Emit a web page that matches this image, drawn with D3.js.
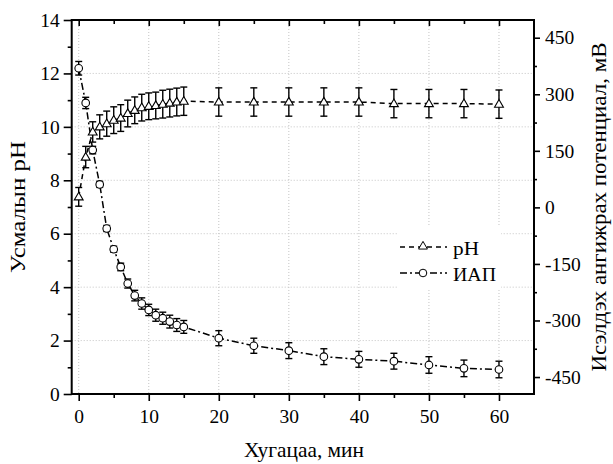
<!DOCTYPE html>
<html>
<head>
<meta charset="utf-8">
<script src="https://cdn.jsdelivr.net/npm/d3@7"></script>
<style>
  html, body { margin: 0; padding: 0; background: #fff; }
  svg { display: block; }
  text { font-family: "Liberation Serif", "Times New Roman", serif; fill: #000; }
</style>
</head>
<body>
<svg id="chart" width="613" height="464"></svg>
<script>
// ---- data ----
const timeMin   = [0,1,2,3,4,5,6,7,8,9,10,11,12,13,14,15,20,25,30,35,40,45,50,55,60];
const pHValues  = [7.38,8.87,9.81,10.0,10.12,10.25,10.33,10.5,10.62,10.72,10.77,10.8,10.85,10.89,10.93,10.96,
                   10.93,10.93,10.93,10.93,10.93,10.87,10.87,10.87,10.85];
const pHErrors  = [0.35,0.4,0.38,0.45,0.47,0.5,0.5,0.5,0.5,0.5,0.5,0.5,0.52,0.52,0.52,0.53,
                   0.53,0.53,0.53,0.53,0.53,0.53,0.53,0.53,0.53];
const orpValues = [369,277,152,61,-56,-111,-158,-202,-234,-255,-272,-286,-294,-303,-312,-317,
                   -347,-367,-380,-396,-403,-408,-418,-427,-430];
const orpErrors = [18,15,10,8,8,8,10,12,14,15,15,16,16,17,17,17,20,20,21,21,21,21,22,22,22];

const xMajorTicks = [0,10,20,30,40,50,60];
const xMinorTicks = [5,15,25,35,45,55];
const leftMajorTicks = [0,2,4,6,8,10,12,14];
const leftMinorTicks = [1,3,5,7,9,11,13];
const rightMajorTicks = [-450,-300,-150,0,150,300,450];
const rightMinorTicks = [-375,-225,-75,75,225,375];

const seriesNames = ["pH", "ИАП"];
const xTitle = "Хугацаа, мин";
const leftTitle = "Усмалын pH";
const rightTitle = "Исэлдэх ангижрах потенциал, мВ";

// ---- layout ----
const L = 71.7, R = 534, T = 20, B = 394;
const svg = d3.select("#chart");
const x  = d3.scaleLinear().domain([-1, 65]).range([L, R]);
const yL = d3.scaleLinear().domain([0, 14]).range([B, T]);
const yR = d3.scaleLinear().domain([-495, 497]).range([B, T]);
const fmt = d => String(d);

// grid
const grid = svg.append("g").attr("stroke", "#c4c4c4").attr("stroke-width", 1).attr("stroke-dasharray", "1,2");
grid.selectAll("line.v").data(xMajorTicks).join("line")
  .attr("x1", d => x(d)).attr("x2", d => x(d)).attr("y1", T).attr("y2", B);
grid.selectAll("line.h").data(leftMajorTicks.filter(d => d > 0 && d < 14)).join("line")
  .attr("x1", L).attr("x2", R).attr("y1", d => yL(d)).attr("y2", d => yL(d));

// legend background (covers grid)
svg.append("rect").attr("x", 398).attr("y", 225).attr("width", 103).attr("height", 65).attr("fill", "#fff");

// axes
function styleAxis(g, labelSize) {
  g.select(".domain").remove();
  g.selectAll(".tick line").attr("stroke", "#000").attr("stroke-width", 1.6);
  g.selectAll(".tick text").attr("font-size", labelSize)
    .attr("font-family", '"Liberation Serif", "Times New Roman", serif');
}
const gBottom = svg.append("g").attr("transform", `translate(0,${B})`)
  .call(d3.axisBottom(x).tickValues(xMajorTicks).tickFormat(fmt).tickSize(7).tickPadding(8));
styleAxis(gBottom, 19.5);
const gBottomMinor = svg.append("g").attr("transform", `translate(0,${B})`)
  .call(d3.axisBottom(x).tickValues(xMinorTicks).tickFormat("").tickSize(4));
styleAxis(gBottomMinor, 0);
const gTop = svg.append("g").attr("transform", `translate(0,${T})`)
  .call(d3.axisBottom(x).tickValues(xMajorTicks).tickFormat("").tickSize(6));
styleAxis(gTop, 0);
const gTopMinor = svg.append("g").attr("transform", `translate(0,${T})`)
  .call(d3.axisBottom(x).tickValues(xMinorTicks).tickFormat("").tickSize(4));
styleAxis(gTopMinor, 0);

const gLeft = svg.append("g").attr("transform", `translate(${L},0)`)
  .call(d3.axisLeft(yL).tickValues(leftMajorTicks).tickFormat(fmt).tickSize(8).tickPadding(4));
styleAxis(gLeft, 19.5);
const gLeftMinor = svg.append("g").attr("transform", `translate(${L},0)`)
  .call(d3.axisLeft(yL).tickValues(leftMinorTicks).tickFormat("").tickSize(4));
styleAxis(gLeftMinor, 0);

const gRight = svg.append("g").attr("transform", `translate(${R},0)`)
  .call(d3.axisRight(yR).tickValues(rightMajorTicks).tickFormat(fmt).tickSize(6).tickPadding(5));
styleAxis(gRight, 19.5);
const gRightMinor = svg.append("g").attr("transform", `translate(${R},0)`)
  .call(d3.axisRight(yR).tickValues(rightMinorTicks).tickFormat("").tickSize(3));
styleAxis(gRightMinor, 0);

// frame
svg.append("rect").attr("x", L).attr("y", T).attr("width", R - L).attr("height", B - T)
  .attr("fill", "none").attr("stroke", "#000").attr("stroke-width", 2);

// titles
svg.append("text").attr("x", 304).attr("y", 457).attr("text-anchor", "middle")
  .attr("font-size", 21).attr("textLength", 120).attr("lengthAdjust", "spacingAndGlyphs").text(xTitle);
svg.append("text").attr("transform", `translate(25,${(T + B) / 2}) rotate(-90)`)
  .attr("text-anchor", "middle").attr("font-size", 22)
  .attr("textLength", 132).attr("lengthAdjust", "spacingAndGlyphs").text(leftTitle);
svg.append("text").attr("transform", `translate(606,${(T + B) / 2}) rotate(-90)`)
  .attr("text-anchor", "middle").attr("font-size", 22)
  .attr("textLength", 329).attr("lengthAdjust", "spacingAndGlyphs").text(rightTitle);

// series
const pHData  = timeMin.map((t, i) => ({ t, v: pHValues[i],  e: pHErrors[i] }));
const orpData = timeMin.map((t, i) => ({ t, v: orpValues[i], e: orpErrors[i] }));

svg.append("path").datum(orpData)
  .attr("d", d3.line().x(d => x(d.t)).y(d => yR(d.v)))
  .attr("fill", "none").attr("stroke", "#000").attr("stroke-width", 1.5)
  .attr("stroke-dasharray", "7,3,2,3");
svg.append("path").datum(pHData)
  .attr("d", d3.line().x(d => x(d.t)).y(d => yL(d.v)))
  .attr("fill", "none").attr("stroke", "#000").attr("stroke-width", 1.5)
  .attr("stroke-dasharray", "5,4");

function errorBars(data, yScale) {
  const g = svg.append("g").attr("stroke", "#000").attr("stroke-width", 1.4);
  const cap = 3.5;
  data.forEach(d => {
    const xx = x(d.t), y1 = yScale(d.v + d.e), y2 = yScale(d.v - d.e);
    g.append("line").attr("x1", xx).attr("x2", xx).attr("y1", y1).attr("y2", y2);
    g.append("line").attr("x1", xx - cap).attr("x2", xx + cap).attr("y1", y1).attr("y2", y1);
    g.append("line").attr("x1", xx - cap).attr("x2", xx + cap).attr("y1", y2).attr("y2", y2);
  });
}
errorBars(orpData, yR);
errorBars(pHData, yL);

const tri = d3.symbol().type(d3.symbolTriangle).size(34);
svg.append("g").selectAll("path").data(pHData).join("path")
  .attr("transform", d => `translate(${x(d.t)},${yL(d.v) + 0.5})`)
  .attr("d", tri).attr("fill", "#fff").attr("stroke", "#000").attr("stroke-width", 1.1);
svg.append("g").selectAll("circle").data(orpData).join("circle")
  .attr("cx", d => x(d.t)).attr("cy", d => yR(d.v)).attr("r", 3.8)
  .attr("fill", "#fff").attr("stroke", "#000").attr("stroke-width", 1.1);

// legend
const lg = svg.append("g");
const items = [
  { name: seriesNames[0], dash: "5,4", y: 247, mark: "tri", len: 26 },
  { name: seriesNames[1], dash: "7,3,2,3", y: 273, mark: "circ", len: 43 }
];
items.forEach(it => {
  lg.append("line").attr("x1", 400).attr("x2", 447).attr("y1", it.y).attr("y2", it.y)
    .attr("stroke", "#000").attr("stroke-width", 1.5).attr("stroke-dasharray", it.dash);
  if (it.mark === "tri") {
    lg.append("path").attr("transform", `translate(423,${it.y - 0.5})`).attr("d", tri)
      .attr("fill", "#fff").attr("stroke", "#000");
  } else {
    lg.append("circle").attr("cx", 423).attr("cy", it.y).attr("r", 3.8)
      .attr("fill", "#fff").attr("stroke", "#000");
  }
  lg.append("text").attr("x", 453).attr("y", it.y + 7.5).attr("font-size", 18)
    .attr("textLength", it.len).attr("lengthAdjust", "spacingAndGlyphs").text(it.name);
});
</script>
</body>
</html>
